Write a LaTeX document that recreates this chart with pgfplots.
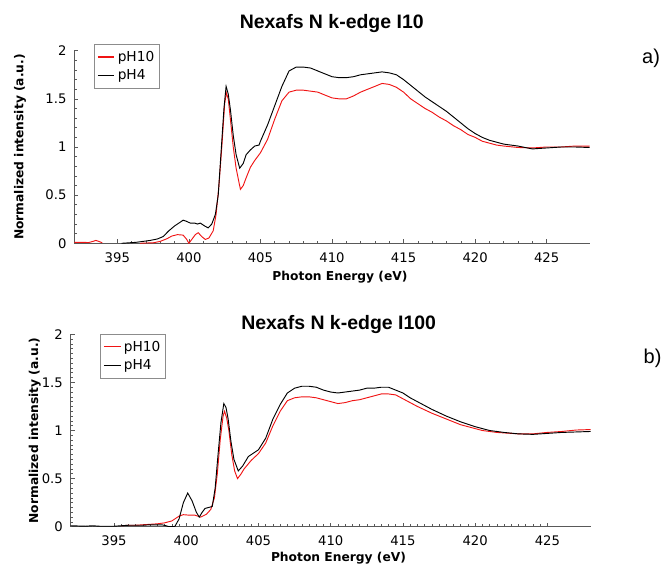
\documentclass[border=0pt]{standalone}
\usepackage{fontspec}
\setmainfont{DejaVu Sans}
\newfontfamily\arialfont{Liberation Sans}
\usepackage{pgfplots}
\pgfplotsset{compat=1.18}

\definecolor{specred}{RGB}{240,20,20}

\pgfplotsset{
  nexafs/.style={
    scale only axis,
    xmin=392, xmax=428, ymin=0, ymax=2,
    axis lines=left,
    axis line style={-, draw=black!65, line width=0.5pt},
    xtick={395,400,...,425},
    ytick={0,0.5,1,1.5,2},
    tick align=inside,
    major tick length=3pt,
    minor tick length=1.8pt,
    tick style={black!65, line width=0.45pt},
    /pgf/number format/assume math mode=true,
    tick label style={font=\fontsize{9.9}{11}\selectfont},
    x tick label style={yshift=-3.5pt},
    y tick label style={xshift=-2.4pt},
    label style={font=\fontsize{9.2}{11}\selectfont\bfseries},
    xlabel={Photon Energy (eV)},
    ylabel={Normalized intensity (a.u.)},
    legend cell align=left,
    legend image code/.code={\draw[#1, line width=0.9pt] (0pt,0.3pt) -- (12.5pt,0.3pt);},
    legend style={draw=black!45,
      font=\fontsize{10.3}{12}\selectfont,
      inner xsep=2pt, inner ysep=3pt, row sep=0.8pt},
    every axis plot/.append style={line width=0.7pt},
  }
}

\begin{document}
\begin{tikzpicture}
\path[use as bounding box] (0pt,0pt) rectangle (497.25pt,-425.25pt);

% ---------------- panel a ----------------
\begin{axis}[nexafs,
  at={(55.8pt,-182.475pt)}, anchor=south west,
  width=386.4pt, height=144.45pt,
  minor x tick num=4, minor y tick num=4,
  xlabel style={at={(axis description cs:0.5155,-0.174)}, anchor=center},
  ylabel style={at={(axis description cs:-0.1056,0.5)}, anchor=center},
  legend style={at={(axis description cs:0.0386,1.033)}, anchor=north west},
  unbounded coords=jump,
]
\addplot[specred] coordinates {
(392,0.01) (392.5,0.01) (393,0.008) (393.3,0.02) (393.5,0.03) (393.7,0.02) (393.95,0.005)
(394.5,nan)
(396.6,0.0) (397,0.003) (397.5,0.005) (398,0.02) (398.5,0.05) (398.8,0.075) (399.2,0.09)
(399.6,0.085) (399.85,0.04) (400.0,0.0) (400.2,0.04) (400.45,0.09) (400.65,0.11) (400.9,0.07)
(401.15,0.04) (401.4,0.055) (401.7,0.13) (401.9,0.3) (402.1,0.6) (402.3,1.0) (402.5,1.45)
(402.62,1.56) (402.75,1.5) (402.9,1.29) (403.1,1.0) (403.3,0.78) (403.6,0.56) (403.8,0.6)
(404.0,0.68) (404.3,0.79) (404.6,0.86) (405.0,0.94) (405.5,1.08) (406,1.29) (406.5,1.48)
(407,1.57) (407.5,1.59) (408,1.59) (408.5,1.58) (409,1.57) (409.5,1.54) (410,1.51)
(410.5,1.50) (411,1.50) (411.5,1.53) (412,1.57) (412.5,1.60) (413,1.63) (413.5,1.66)
(414,1.65) (414.5,1.62) (415,1.57) (415.5,1.50) (416,1.45) (416.5,1.40) (417,1.36)
(417.5,1.31) (418,1.27) (418.5,1.22) (419,1.18) (419.5,1.13) (420,1.10) (420.5,1.06)
(421,1.04) (421.5,1.02) (422,1.01) (423,0.995) (424,0.99) (425,1.0) (426,1.0) (427,1.01) (428,1.01)
};
\addlegendentry{pH10}
\addplot[black] coordinates {
(395.3,0.0) (395.8,0.005) (396.3,0.01) (396.8,0.02) (397.3,0.03) (397.8,0.045) (398.2,0.07)
(398.6,0.13) (399.0,0.18) (399.3,0.21) (399.6,0.24) (399.8,0.23) (400.1,0.21) (400.4,0.21)
(400.6,0.2) (400.8,0.21) (401.1,0.18) (401.35,0.16) (401.6,0.2) (401.85,0.3) (402.05,0.5)
(402.25,0.95) (402.45,1.4) (402.6,1.63) (402.75,1.55) (402.9,1.39) (403.1,1.12) (403.3,0.92)
(403.55,0.78) (403.8,0.83) (404.0,0.92) (404.3,0.97) (404.6,1.01) (404.9,1.02) (405.0,1.06)
(405.5,1.23) (406,1.43) (406.5,1.63) (407,1.79) (407.5,1.83) (408,1.83) (408.5,1.82)
(409,1.79) (409.5,1.76) (410,1.73) (410.5,1.72) (411,1.72) (411.5,1.73) (412,1.75)
(412.5,1.76) (413,1.77) (413.5,1.78) (414,1.77) (414.5,1.75) (415,1.70) (415.5,1.64)
(416,1.58) (416.5,1.52) (417,1.47) (417.5,1.42) (418,1.37) (418.5,1.31) (419,1.25)
(419.5,1.19) (420,1.14) (420.5,1.10) (421,1.07) (421.5,1.05) (422,1.03) (423,1.01)
(424,0.98) (425,0.99) (426,1.0) (427,1.0) (428,0.995)
};
\addlegendentry{pH4}
\end{axis}

% ---------------- panel b ----------------
\begin{axis}[nexafs,
  at={(53.025pt,-395.025pt)}, anchor=south west,
  width=390pt, height=144.3pt,
  minor x tick num=9, minor y tick num=9,
  xlabel style={at={(axis description cs:0.515,-0.165)}, anchor=center},
  ylabel style={at={(axis description cs:-0.069,0.5)}, anchor=center},
  legend style={at={(axis description cs:0.057,1.0016)}, anchor=north west},
]
\addplot[specred] coordinates {
(395.5,0.01) (396,0.015) (396.5,0.015) (397,0.02) (397.5,0.025) (398,0.03) (398.5,0.04)
(399,0.06) (399.5,0.11) (399.8,0.125) (400.2,0.12) (400.6,0.12) (401.0,0.10) (401.4,0.13)
(401.7,0.18) (401.95,0.3) (402.15,0.55) (402.35,0.9) (402.55,1.15) (402.65,1.2) (402.8,1.13)
(402.95,1.0) (403.15,0.75) (403.35,0.58) (403.55,0.50) (403.8,0.55) (404.0,0.6) (404.5,0.69)
(405,0.76) (405.5,0.87) (406,1.05) (406.5,1.2) (407,1.31) (407.5,1.34) (408,1.35)
(408.5,1.35) (409,1.34) (409.5,1.32) (410,1.30) (410.5,1.28) (411,1.29) (411.5,1.31)
(412,1.32) (412.5,1.34) (413,1.36) (413.5,1.38) (414,1.38) (414.5,1.37) (415,1.33)
(415.5,1.29) (416,1.25) (416.5,1.215) (417,1.18) (417.5,1.15) (418,1.12) (418.5,1.09)
(419,1.06) (419.5,1.04) (420,1.02) (420.5,1.0) (421,0.99) (421.5,0.98) (422,0.975)
(423,0.965) (424,0.965) (425,0.98) (426,0.99) (427,1.005) (428,1.01)
};
\addlegendentry{pH10}
\addplot[black] coordinates {
(392,0.01) (393,0.005) (393.5,0.01) (394,0.005) (395,0.005) (395.5,0.01) (396,0.015)
(397,0.015) (397.5,0.02) (398,0.02) (398.3,0.02) (398.6,0.01) (398.8,0.0) (399.2,0.0)
(399.5,0.08) (399.8,0.25) (400.1,0.35) (400.4,0.27) (400.7,0.15) (400.9,0.10) (401.1,0.15)
(401.3,0.19) (401.8,0.21) (402.0,0.4) (402.2,0.75) (402.4,1.08) (402.6,1.28) (402.75,1.24)
(402.9,1.12) (403.1,0.88) (403.3,0.70) (403.6,0.58) (403.9,0.63) (404.3,0.73) (404.7,0.77)
(405,0.80) (405.5,0.92) (406,1.12) (406.5,1.27) (407,1.39) (407.5,1.44) (408,1.46)
(408.5,1.46) (409,1.45) (409.5,1.42) (410,1.40) (410.5,1.39) (411,1.40) (411.5,1.41)
(412,1.42) (412.5,1.44) (413,1.44) (413.5,1.45) (414,1.45) (414.5,1.42) (415,1.39)
(415.5,1.34) (416,1.30) (416.5,1.26) (417,1.22) (417.5,1.185) (418,1.15) (418.5,1.12)
(419,1.09) (419.5,1.065) (420,1.04) (420.5,1.02) (421,1.00) (421.5,0.99) (422,0.98)
(423,0.965) (424,0.96) (425,0.97) (426,0.98) (427,0.985) (428,0.99)
};
\addlegendentry{pH4}
\end{axis}

% titles and panel letters
\node[anchor=base, font=\arialfont\bfseries\fontsize{14.6}{17}\selectfont] at (248.8pt,-21.2pt) {Nexafs N k-edge I10};
\node[anchor=base, font=\arialfont\bfseries\fontsize{14.6}{17}\selectfont] at (254pt,-247.3pt) {Nexafs N k-edge I100};
\node[font=\arialfont\fontsize{15}{17}\selectfont] at (488.3pt,-43.8pt) {a)};
\node[font=\arialfont\fontsize{15}{17}\selectfont] at (489.4pt,-269.0pt) {b)};
\end{tikzpicture}
\end{document}
